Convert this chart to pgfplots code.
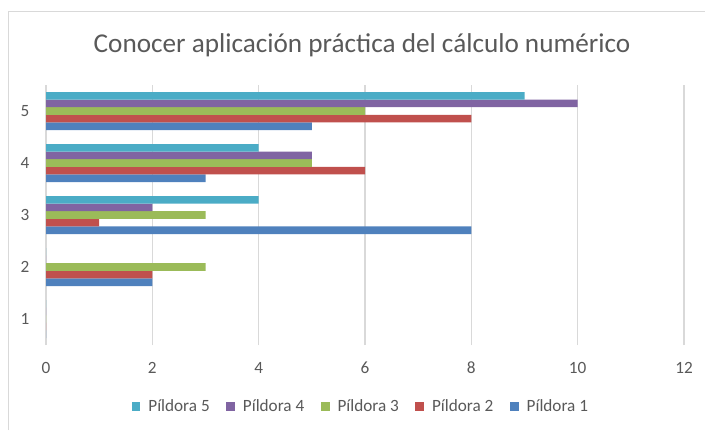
\documentclass[border=0pt]{standalone}
\usepackage{pgfplots}
\pgfplotsset{compat=1.18}
\usepackage{fontspec}
\setmainfont{Carlito}

\definecolor{pA}{HTML}{4F81BD}
\definecolor{pB}{HTML}{C0504D}
\definecolor{pC}{HTML}{9BBB59}
\definecolor{pD}{HTML}{8064A2}
\definecolor{pE}{HTML}{4BACC6}
\definecolor{txt}{HTML}{595959}
\definecolor{gridc}{HTML}{D9D9D9}

\begin{document}
\begin{tikzpicture}[x=1pt,y=1pt]
\useasboundingbox (0,0) rectangle (352.5,215);
\draw[gridc, line width=0.5pt] (4,0) -- (4,209.5) -- (352.5,209.5);
\node[text=txt, font=\fontsize{13.6}{16}\selectfont] at (181,192.5)
  {Conocer aplicación práctica del cálculo numérico};
\begin{axis}[
  at={(23pt,42.5pt)}, anchor=south west,
  scale only axis, width=319pt, height=130pt,
  xbar, bar width=3.8pt,
  xmin=0, xmax=12, ymin=0.5, ymax=5.5,
  xtick={0,2,...,12}, ytick={1,2,3,4,5},
  xmajorgrids, grid style={gridc, line width=0.7pt},
  axis line style={draw=none},
  major tick length=0pt,
  tick label style={text=txt, font=\fontsize{8.6}{10}\selectfont},
  /pgf/number format/assume math mode=true,
  xticklabel style={anchor=center, yshift=-11.5pt},
  yticklabel style={anchor=center, xshift=-10.5pt},
  clip=false,
  legend style={at={(0.495,-0.238)}, anchor=center, draw=none, fill=none,
    font=\fontsize{8.6}{10}\selectfont, text=txt,
    legend columns=5, column sep=2pt,
    /tikz/every even column/.append style={column sep=6.2pt}},
  legend cell align=left,
  reverse legend,
  legend image code/.code={\fill[#1,draw=none] (0pt,-2.2pt) rectangle (4.4pt,2.2pt);},
  every axis plot/.append style={draw=none},
]
\draw[gridc, line width=0.9pt] (axis cs:0,0.5) -- (axis cs:0,5.5);
\addplot[fill=pA, bar shift=-7.6pt] coordinates {(0,1)(2,2)(8,3)(3,4)(5,5)};
\addplot[fill=pB, bar shift=-3.8pt] coordinates {(0,1)(2,2)(1,3)(6,4)(8,5)};
\addplot[fill=pC, bar shift=0pt] coordinates {(0,1)(3,2)(3,3)(5,4)(6,5)};
\addplot[fill=pD, bar shift=3.8pt] coordinates {(0,1)(0,2)(2,3)(5,4)(10,5)};
\addplot[fill=pE, bar shift=7.6pt] coordinates {(0,1)(0,2)(4,3)(4,4)(9,5)};
\legend{Píldora 1,Píldora 2,Píldora 3,Píldora 4,Píldora 5}
\end{axis}
\end{tikzpicture}
\end{document}
